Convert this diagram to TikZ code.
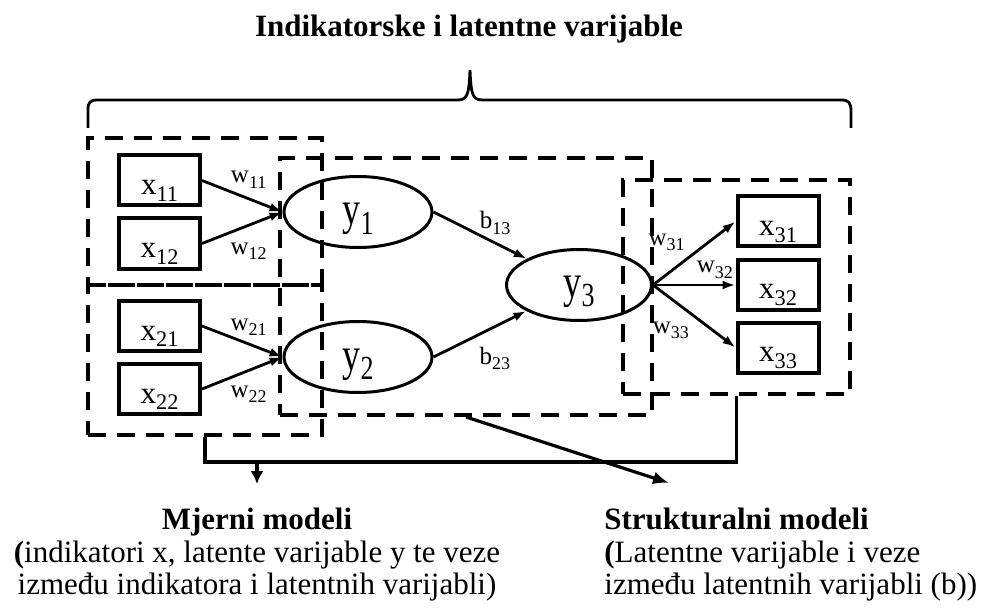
\documentclass[tikz,border=0pt]{standalone}
\usepackage{fontspec}
\setmainfont{Liberation Serif}
\usepackage{graphicx}
\usetikzlibrary{arrows.meta,positioning,calc,shapes.geometric}
\newcommand{\xvar}[2]{#1\raisebox{-0.22em}{\scalebox{0.72}{#2}}}
\newcommand{\yvar}[2]{\scalebox{1}[1.3]{#1\raisebox{-0.2em}{\scalebox{0.72}{#2}}}}

\begin{document}
\begin{tikzpicture}[x=0.5pt,y=-0.5pt,
        every node/.style={font=\fontsize{15.5}{16.25}\selectfont},
        indbox/.style={draw,line width=2pt,minimum width=40.5pt,minimum height=25pt,inner ysep=2pt,text height=16.5pt,text depth=2.5pt},
        latent/.style={draw,ellipse,line width=1.5pt,minimum width=74pt,minimum height=35.5pt,inner sep=0pt,font=\fontsize{18}{20}\selectfont,text height=18pt,text depth=5pt},
        group/.style={draw,line width=2pt,dash pattern=on 9pt off 5.5pt,inner sep=0pt},
        wlbl/.style={inner sep=2pt,font=\fontsize{12.5}{14}\selectfont},
        link/.style={line width=1.4pt,-{Latex[length=6.5pt,width=4.5pt]}},
        feed/.style={line width=1.6pt},
        caphead/.style={font=\fontsize{15.5}{16.25}\selectfont\bfseries,inner sep=0pt},
        captxt/.style={inner sep=0pt}
      ]
        \useasboundingbox (0,0) rectangle (981,610);
        % title and brace
        \node[caphead,anchor=base] (title) at (469,37) {Indikatorske i latentne varijable};
        \draw[line width=1.4pt] (88,128) -- (88,110) .. controls (88,102) and (90,100) .. (98,100)
          -- (457,100) .. controls (467,100) and (469,96) .. (470,70)
          .. controls (471,96) and (473,100) .. (483,100)
          -- (841,100) .. controls (849,100) and (851,103) .. (851,111) -- (851,128);
        % dashed groups
        \node[group,minimum width=117pt,minimum height=73.5pt] (measA) at (205,211.5) {};
        \node[group,minimum width=117pt,minimum height=75pt] (measB) at (205,360) {};
        \node[group,minimum width=186pt,minimum height=128.5pt] (structC) at (466,286.5) {};
        \node[group,minimum width=113.5pt,minimum height=107pt] (measD) at (736.5,287) {};
        % indicators
        \node[indbox] (x11) at (159.5,180.5) {\xvar{x}{11}};
        \node[indbox] (x12) at (159.5,243.5) {\xvar{x}{12}};
        \node[indbox] (x21) at (159.5,326) {\xvar{x}{21}};
        \node[indbox] (x22) at (159.5,389) {\xvar{x}{22}};
        \node[indbox] (x31) at (778,221.5) {\xvar{x}{31}};
        \node[indbox] (x32) at (778,285) {\xvar{x}{32}};
        \node[indbox] (x33) at (778,347.5) {\xvar{x}{33}};
        % latent variables
        \node[latent] (y1) at (358,212) {\yvar{y}{1}};
        \node[latent] (y2) at (358,357) {\yvar{y}{2}};
        \node[latent,minimum width=72.5pt,text height=17pt] (y3) at (579,285) {\yvar{y}{3}};
        % weights and paths
        \draw[link] (x11.east) -- node[wlbl,pos=0.58,above=2.5pt] {\xvar{w}{11}} (y1.west);
        \draw[link] (x12.east) -- node[wlbl,pos=0.58,below=6pt] {\xvar{w}{12}} (y1.west);
        \draw[link] (x21.east) -- node[wlbl,pos=0.58,above=1.5pt] {\xvar{w}{21}} (y2.west);
        \draw[link] (x22.east) -- node[wlbl,pos=0.58,below=5pt] {\xvar{w}{22}} (y2.west);
        \draw[link] (y1.east) -- node[wlbl,pos=0.66,above=1.5pt] {\xvar{b}{13}} (y3);
        \draw[link] (y2.east) -- node[wlbl,pos=0.66,below=7.5pt] {\xvar{b}{23}} (y3);
        \draw[link] (y3.east) -- node[wlbl,pos=0.45,above left=0pt] {\xvar{w}{31}} (x31.west);
        \draw[link] (y3.east) -- node[wlbl,pos=0.75,above=0.5pt] {\xvar{w}{32}} (x32.west);
        \draw[link] (y3.east) -- node[wlbl,pos=0.5,below left=0pt] {\xvar{w}{33}} (x33.west);
        % captions
        \node[caphead,anchor=base] (mjerni) at (257,529) {Mjerni modeli};
        \node[captxt,anchor=base] (mjline2) at (257,562) {{\bfseries(}indikatori x, latente varijable y te veze};
        \node[captxt,anchor=base] (mjline3) at (257,594) {između indikatora i latentnih varijabli)};
        \node[caphead,anchor=base west] (struct) at (604,529) {Strukturalni modeli};
        \node[captxt,anchor=base west] (strline2) at (604,562) {{\bfseries(}Latentne varijable i veze};
        \node[captxt,anchor=base west] (strline3) at (604,594) {između latentnih varijabli (b))};
        % pointers to captions
        \coordinate (structtip) at (669,483);
        \draw[feed] (measB.south) -- ++(0,25) coordinate (bend) -| (measD.south);
        \draw[feed,-{Latex[length=6.5pt,width=6.5pt]}] (bend -| mjerni) -- ++(0,22);
        \draw[feed,-{Latex[length=8pt,width=6.5pt]}] (structC.south) -- (structtip);
      \end{tikzpicture}
\end{document}
